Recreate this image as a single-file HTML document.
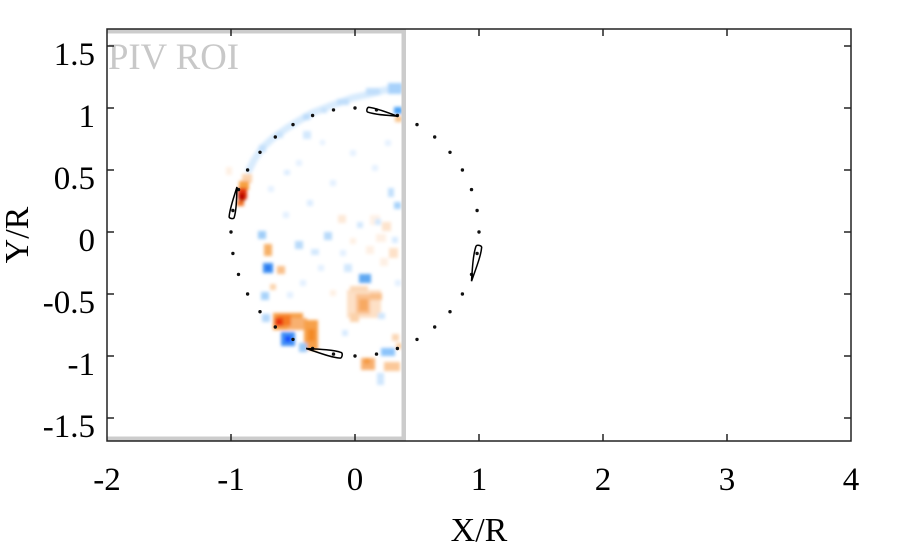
<!DOCTYPE html>
<html>
<head>
<meta charset="utf-8">
<style>
html,body{margin:0;padding:0;background:#fff;}
svg{display:block;}
text{font-family:"Liberation Serif",serif;fill:#000;}
</style>
</head>
<body>
<svg width="901" height="551" viewBox="0 0 901 551" xmlns="http://www.w3.org/2000/svg">
<defs>
<filter id="bl" x="0" y="0" width="901" height="551" filterUnits="userSpaceOnUse"><feGaussianBlur stdDeviation="1.5"/></filter>
<clipPath id="roi"><rect x="108" y="30" width="294" height="410"/></clipPath>
</defs>
<rect width="901" height="551" fill="#fff"/>

<!-- vorticity field -->
<g clip-path="url(#roi)">
<g filter="url(#bl)">
  <!-- blue arc band -->
  <polyline points="249,170 254,160 262,148 273,138 287,128 300,120 312,113 330,106 352,98 370,94 385,90 402,87" fill="none" stroke="#d8ebfd" stroke-width="7" stroke-linecap="round"/>
  <rect x="388" y="83" width="14" height="11" fill="#a8d2fb"/>
  <rect x="366" y="88" width="14" height="7" fill="#c0defb"/>
  <rect x="337" y="99" width="12" height="6" fill="#c0defb"/>
  <rect x="303" y="114" width="7" height="6" fill="#bcdcfb"/>
  <rect x="259" y="145" width="7" height="7" fill="#c4e0fb"/>
  <rect x="276" y="132" width="7" height="6" fill="#c8e2fb"/>
  <rect x="321" y="108" width="6" height="5" fill="#c8e2fb"/>
  <!-- left blade vortex -->
  <rect x="226" y="167" width="6" height="8" fill="#fef0e4"/>
  <rect x="242" y="174" width="10" height="9" fill="#fbd3ae"/>
  <rect x="239" y="181" width="10" height="9" fill="#f7a040"/>
  <rect x="238" y="188" width="9" height="11" fill="#e53010"/>
  <rect x="239" y="193" width="6" height="8" fill="#b80000"/>
  <rect x="237" y="201" width="7" height="5" fill="#f07020"/>
  <!-- top blade -->
  <rect x="394" y="107" width="8" height="7" fill="#4aa0f5"/>
  <rect x="395" y="116" width="7" height="6" fill="#f9c48c"/>
  <!-- interior diffuse orange speckles -->
  <rect x="370" y="215" width="10" height="10" fill="#fef1e6"/>
  <rect x="382" y="222" width="9" height="9" fill="#fde3cc"/>
  <rect x="376" y="234" width="10" height="8" fill="#fef0e4"/>
  <rect x="389" y="248" width="9" height="10" fill="#fde1c8"/>
  <rect x="366" y="246" width="8" height="8" fill="#fef0e4"/>
  <rect x="380" y="258" width="8" height="8" fill="#fef0e4"/>
  <rect x="338" y="215" width="8" height="8" fill="#fde9d8"/>
  <rect x="350" y="238" width="6" height="6" fill="#fef0e4"/>
  <!-- interior speckles -->
  <rect x="258" y="231" width="8" height="8" fill="#9fcdf8"/>
  <rect x="264" y="244" width="8" height="12" fill="#f7b068"/>
  <rect x="263" y="263" width="10" height="10" fill="#3d8ff2"/>
  <rect x="266" y="266" width="4" height="4" fill="#1e6cf0"/>
  <rect x="277" y="266" width="8" height="8" fill="#f9c08a"/>
  <rect x="270" y="284" width="6" height="6" fill="#fbd4ad"/>
  <rect x="261" y="292" width="8" height="8" fill="#a8d3fa"/>
  <rect x="295" y="241" width="8" height="8" fill="#b8dafa"/>
  <rect x="311" y="249" width="8" height="6" fill="#d3e8fd"/>
  <rect x="324" y="232" width="8" height="8" fill="#b8dafa"/>
  <rect x="344" y="264" width="8" height="8" fill="#d3e8fd"/>
  <rect x="359" y="274" width="12" height="9" fill="#5ea8f2"/>
  <rect x="357" y="222" width="6" height="6" fill="#d3e8fd"/>
  <rect x="375" y="219" width="6" height="6" fill="#d3e8fd"/>
  <rect x="392" y="237" width="6" height="6" fill="#d8ebff"/>
  <rect x="388" y="188" width="6" height="9" fill="#c3e0fc"/>
  <rect x="394" y="202" width="7" height="7" fill="#a8d3fa"/>
  <rect x="307" y="200" width="6" height="6" fill="#dcedff"/>
  <rect x="284" y="170" width="6" height="5" fill="#dcedff"/>
  <rect x="303" y="131" width="8" height="8" fill="#d3e8fd"/>
  <rect x="330" y="180" width="6" height="6" fill="#e3f0ff"/>
  <rect x="283" y="212" width="6" height="6" fill="#e3f0ff"/>
  <rect x="340" y="250" width="6" height="6" fill="#e3f0ff"/>
  <rect x="296" y="160" width="6" height="6" fill="#e6f2ff"/>
  <rect x="350" y="150" width="6" height="6" fill="#e6f2ff"/>
  <rect x="372" y="165" width="6" height="6" fill="#e6f2ff"/>
  <rect x="320" y="140" width="5" height="5" fill="#e6f2ff"/>
  <rect x="268" y="186" width="6" height="6" fill="#e6f2ff"/>
  <rect x="385" y="140" width="6" height="6" fill="#e6f2ff"/>
  <rect x="318" y="265" width="6" height="6" fill="#e3f0ff"/>
  <rect x="300" y="280" width="6" height="6" fill="#e3f0ff"/>
  <rect x="330" y="290" width="6" height="6" fill="#fef0e4"/>
  <rect x="287" y="292" width="6" height="6" fill="#e3f0ff"/>
  <rect x="395" y="280" width="6" height="6" fill="#e3f0ff"/>
  <!-- lower-middle orange -->
  <rect x="347" y="290" width="34" height="28" fill="#fde0c6"/>
  <rect x="359" y="299" width="9" height="12" fill="#f39030"/>
  <rect x="356" y="294" width="14" height="20" fill="#f8b478" opacity="0.7"/>
  <rect x="370" y="293" width="12" height="7" fill="#f9bf8a"/>
  <rect x="350" y="313" width="9" height="9" fill="#fbd2aa"/>
  <rect x="350" y="286" width="18" height="6" fill="#fbd8b8"/>
  <rect x="378" y="313" width="7" height="6" fill="#cfe6fd"/>
  <rect x="342" y="330" width="6" height="6" fill="#d8ebff"/>
  <!-- bottom blade vortex -->
  <rect x="273" y="313" width="30" height="17" fill="#f7a04a"/>
  <rect x="288" y="318" width="19" height="12" fill="#f8b070"/>
  <rect x="277" y="315" width="14" height="11" fill="#f57a20"/>
  <rect x="275" y="318" width="8" height="8" fill="#e8300c"/>
  <rect x="304" y="320" width="14" height="30" fill="#f7a04a"/>
  <rect x="308" y="329" width="7" height="12" fill="#f38a28"/>
  <rect x="281" y="332" width="14" height="14" fill="#3f8ff5"/>
  <rect x="285" y="336" width="6" height="6" fill="#0a4cff"/>
  <rect x="299" y="343" width="8" height="9" fill="#98c8f8"/>
  <rect x="262" y="314" width="8" height="8" fill="#b5d8fa"/>
  <!-- lower right -->
  <rect x="361" y="358" width="14" height="12" fill="#f8b070"/>
  <rect x="364" y="358" width="6" height="6" fill="#f59a40"/>
  <rect x="384" y="362" width="16" height="9" fill="#fbc898"/>
  <rect x="381" y="348" width="14" height="8" fill="#8cc4fb"/>
  <rect x="377" y="373" width="7" height="12" fill="#cfe6fd"/>
  <rect x="392" y="334" width="7" height="7" fill="#fbd6b4"/>
  <rect x="396" y="343" width="6" height="6" fill="#fbd0a6"/>
</g>
</g>

<!-- PIV ROI box -->
<g fill="#cccccc">
  <rect x="107" y="29" width="299" height="4.5"/>
  <rect x="107" y="436.5" width="299" height="4.5"/>
  <rect x="401.5" y="29" width="4.5" height="412"/>
</g>
<text x="108" y="69" font-size="37" style="fill:#c8c8c8" textLength="131" lengthAdjust="spacingAndGlyphs">PIV ROI</text>

<!-- axes frame -->
<rect x="107" y="29" width="744" height="412" fill="none" stroke="#222" stroke-width="1.5"/>
<g stroke="#222" stroke-width="1.5">
  <line x1="231" y1="441" x2="231" y2="434"/>
  <line x1="355" y1="441" x2="355" y2="434"/>
  <line x1="479" y1="441" x2="479" y2="434"/>
  <line x1="603" y1="441" x2="603" y2="434"/>
  <line x1="727" y1="441" x2="727" y2="434"/>
  <line x1="231" y1="29" x2="231" y2="36"/>
  <line x1="355" y1="29" x2="355" y2="36"/>
  <line x1="479" y1="29" x2="479" y2="36"/>
  <line x1="603" y1="29" x2="603" y2="36"/>
  <line x1="727" y1="29" x2="727" y2="36"/>
  <line x1="107" y1="46" x2="114" y2="46"/>
  <line x1="107" y1="108" x2="114" y2="108"/>
  <line x1="107" y1="170" x2="114" y2="170"/>
  <line x1="107" y1="232" x2="114" y2="232"/>
  <line x1="107" y1="294" x2="114" y2="294"/>
  <line x1="107" y1="356" x2="114" y2="356"/>
  <line x1="107" y1="418" x2="114" y2="418"/>
  <line x1="851" y1="46" x2="844" y2="46"/>
  <line x1="851" y1="108" x2="844" y2="108"/>
  <line x1="851" y1="170" x2="844" y2="170"/>
  <line x1="851" y1="232" x2="844" y2="232"/>
  <line x1="851" y1="294" x2="844" y2="294"/>
  <line x1="851" y1="356" x2="844" y2="356"/>
  <line x1="851" y1="418" x2="844" y2="418"/>
</g>

<!-- dots on unit circle -->
<g fill="#111">
  <circle cx="479" cy="232" r="1.7"/><circle cx="477.1" cy="210.5" r="1.7"/><circle cx="471.5" cy="189.6" r="1.7"/><circle cx="462.4" cy="170" r="1.7"/><circle cx="450" cy="152.3" r="1.7"/><circle cx="434.7" cy="137" r="1.7"/><circle cx="417" cy="124.6" r="1.7"/><circle cx="397.4" cy="115.5" r="1.7"/><circle cx="376.5" cy="109.9" r="1.7"/><circle cx="355" cy="108" r="1.7"/>
  <circle cx="333.5" cy="109.9" r="1.7"/><circle cx="312.6" cy="115.5" r="1.7"/><circle cx="293" cy="124.6" r="1.7"/><circle cx="275.3" cy="137" r="1.7"/><circle cx="260" cy="152.3" r="1.7"/><circle cx="247.6" cy="170" r="1.7"/><circle cx="238.5" cy="189.6" r="1.7"/><circle cx="232.9" cy="210.5" r="1.7"/><circle cx="231" cy="232" r="1.7"/>
  <circle cx="232.9" cy="253.5" r="1.7"/><circle cx="238.5" cy="274.4" r="1.7"/><circle cx="247.6" cy="294" r="1.7"/><circle cx="260" cy="311.7" r="1.7"/><circle cx="275.3" cy="327" r="1.7"/><circle cx="293" cy="339.4" r="1.7"/><circle cx="312.6" cy="348.5" r="1.7"/><circle cx="333.5" cy="354.1" r="1.7"/><circle cx="355" cy="356" r="1.7"/>
  <circle cx="376.5" cy="354.1" r="1.7"/><circle cx="397.4" cy="348.5" r="1.7"/><circle cx="417" cy="339.4" r="1.7"/><circle cx="434.7" cy="327" r="1.7"/><circle cx="450" cy="311.7" r="1.7"/><circle cx="462.4" cy="294" r="1.7"/><circle cx="471.5" cy="274.4" r="1.7"/><circle cx="477.1" cy="253.5" r="1.7"/>
</g>

<!-- blades -->
<g fill="none" stroke="#000" stroke-width="1.5">
  <path vector-effect="non-scaling-stroke" transform="translate(367.5,109.5) rotate(12.5) scale(31)" d="M0.02,-0.08 C0.25,-0.11 0.6,-0.05 1,0 C0.6,0.06 0.25,0.11 0.02,0.08 C-0.03,0.06 -0.03,-0.06 0.02,-0.08 Z"/>
  <path vector-effect="non-scaling-stroke" transform="translate(231.5,218) rotate(-80) scale(31.5)" d="M0.02,-0.08 C0.25,-0.11 0.6,-0.05 1,0 C0.6,0.06 0.25,0.11 0.02,0.08 C-0.03,0.06 -0.03,-0.06 0.02,-0.08 Z"/>
  <path vector-effect="non-scaling-stroke" transform="translate(341.5,355.5) rotate(191.2) scale(36)" d="M0.02,-0.08 C0.25,-0.11 0.6,-0.05 1,0 C0.6,0.06 0.25,0.11 0.02,0.08 C-0.03,0.06 -0.03,-0.06 0.02,-0.08 Z"/>
  <path vector-effect="non-scaling-stroke" transform="translate(479,246) rotate(102) scale(36)" d="M0.02,-0.08 C0.25,-0.11 0.6,-0.05 1,0 C0.6,0.06 0.25,0.11 0.02,0.08 C-0.03,0.06 -0.03,-0.06 0.02,-0.08 Z"/>
</g>

<!-- tick labels -->
<g font-size="33" text-anchor="middle">
  <text x="107" y="490">-2</text>
  <text x="231" y="490">-1</text>
  <text x="355" y="490">0</text>
  <text x="479" y="490">1</text>
  <text x="603" y="490">2</text>
  <text x="727" y="490">3</text>
  <text x="851" y="490">4</text>
</g>
<g font-size="33" text-anchor="end">
  <text x="95" y="65">1.5</text>
  <text x="95" y="127">1</text>
  <text x="95" y="189">0.5</text>
  <text x="95" y="251">0</text>
  <text x="95" y="313">-0.5</text>
  <text x="95" y="375">-1</text>
  <text x="95" y="437">-1.5</text>
</g>
<text x="479" y="541" font-size="34" text-anchor="middle">X/R</text>
<text transform="translate(28,235) rotate(-90)" font-size="34" text-anchor="middle">Y/R</text>
</svg>
</body>
</html>
